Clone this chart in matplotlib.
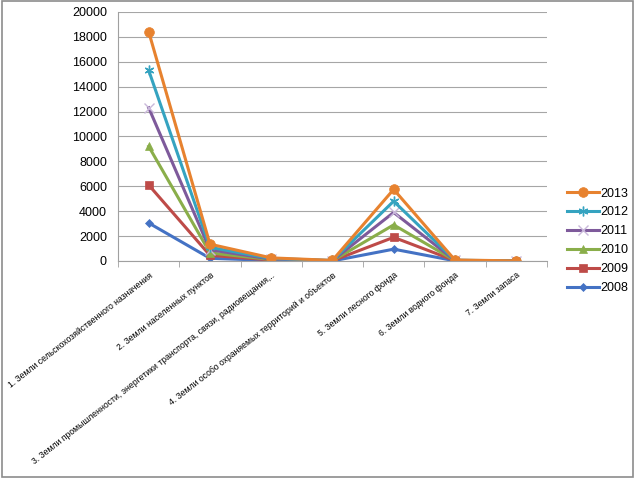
import matplotlib
matplotlib.use('Agg')
import matplotlib.pyplot as plt
from matplotlib.patches import Rectangle
import numpy as np

categories = [
    '1. Земли сельскохозяйственного назначения',
    '2. Земли населенных пунктов',
    '3. Земли промышленности, энергетики транспорта, связи, радиовещания,..',
    '4. Земли особо охраняемых территорий и объектов',
    '5. Земли лесного фонда',
    '6. Земли водного фонда',
    '7. Земли запаса',
]

v2008 = [3050, 220, 40, 5, 950, 15, 2]
v2009 = [6100, 450, 80, 15, 1900, 30, 5]
v2010 = [9200, 650, 120, 20, 2900, 40, 5]
v2011 = [12300, 900, 150, 30, 3900, 50, 10]
v2012 = [15300, 1100, 200, 40, 4800, 60, 10]
v2013 = [18400, 1350, 250, 50, 5750, 80, 10]

# year, values, colour, marker, marker size
series = [
    ('2008', v2008, '#4472C4', 'D', 4),
    ('2009', v2009, '#BE4B48', 's', 6),
    ('2010', v2010, '#8AAE4A', '^', 6),
    ('2011', v2011, '#7E5A9B', 'x', 7),
    ('2012', v2012, '#35A3C0', 'x', 7),
    ('2013', v2013, '#E7822F', 'o', 7),
]

plt.rcParams['font.family'] = ['Liberation Sans', 'DejaVu Sans']

fig = plt.figure(figsize=(6.35, 4.78), dpi=100)
ax = fig.add_axes([0.186, 0.454, 0.675, 0.521])

x = np.arange(len(categories))
handles = []
for name, vals, col, mk, ms in series:
    if name == '2012':
        # star-like marker: x plus a vertical stroke
        ln, = ax.plot(x, vals, color=col, lw=2.2, marker=(6, 2, 0), ms=ms, mew=1)
    else:
        ln, = ax.plot(x, vals, color=col, lw=2.2, marker=mk, ms=ms,
                      mew=1 if mk == 'x' else 0.5,
                      mfc=col if mk != 'x' else 'none',
                      mec=col if mk != 'x' else '#C9B8DA')
    ln.set_label(name)
    handles.append(ln)

ax.set_xlim(-0.5, len(categories) - 0.5)
ax.set_ylim(0, 20000)
ax.set_yticks(np.arange(0, 20001, 2000))
ax.tick_params(axis='y', length=0, labelsize=9, pad=8)
ax.set_xticks(x)
ax.set_xticklabels(categories, rotation=38, ha='right', rotation_mode='anchor',
                   fontsize=6.2)
ax.tick_params(axis='x', length=0, pad=7)
ax.set_xticks(np.arange(-0.5, len(categories)), minor=True)
ax.tick_params(axis='x', which='minor', length=4, color='#A0A0A0', direction='out')

ax.grid(axis='y', color='#A6A6A6', lw=0.8)
ax.set_axisbelow(True)
for s in ['top', 'right']:
    ax.spines[s].set_visible(False)
ax.spines['left'].set_color('#A0A0A0')
ax.spines['bottom'].set_color('#A0A0A0')

leg = ax.legend(handles[::-1], [h.get_label() for h in handles[::-1]],
                loc='upper left', bbox_to_anchor=(1.035, 0.315), frameon=False,
                fontsize=9, handlelength=2.6, labelspacing=0.55,
                handletextpad=0.1, borderaxespad=0)

fig.patches.append(Rectangle((0.003, 0.003), 0.994, 0.994, transform=fig.transFigure,
                             fill=False, ec='#8C8C8C', lw=1.2))

fig.savefig('out.png', dpi=100)
